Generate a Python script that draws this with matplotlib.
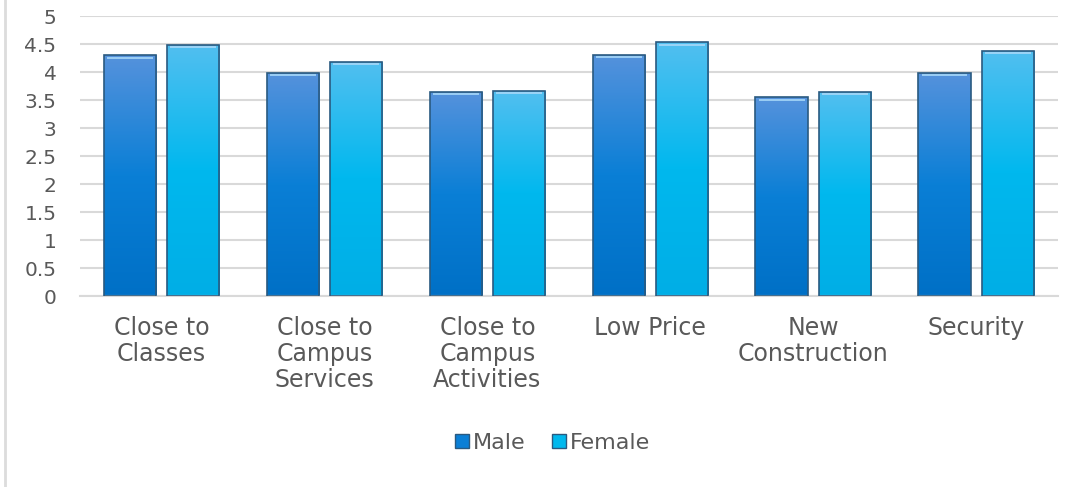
import matplotlib
matplotlib.use("Agg")
import matplotlib.pyplot as plt
import numpy as np
from matplotlib.colors import LinearSegmentedColormap
from matplotlib.lines import Line2D
from matplotlib.patches import Patch

categories = ["Close to\nClasses", "Close to\nCampus\nServices", "Close to\nCampus\nActivities",
              "Low Price", "New\nConstruction", "Security"]
male = [4.30, 3.98, 3.64, 4.31, 3.55, 3.98]
female = [4.49, 4.18, 3.66, 4.53, 3.64, 4.38]
yticks = [0, 0.5, 1, 1.5, 2, 2.5, 3, 3.5, 4, 4.5, 5]
ytick_labels = ["0", "0.5", "1", "1.5", "2", "2.5", "3", "3.5", "4", "4.5", "5"]

TEXT_COLOR = "#595959"
GRID_COLOR = "#d9d9d9"
MALE_CMAP = LinearSegmentedColormap.from_list("m", ["#0070c6", "#0a7fd6", "#5592dc"])
FEMALE_CMAP = LinearSegmentedColormap.from_list("f", ["#00aee6", "#00b8ee", "#52bff0"])
EDGE = "#2a5a80"

plt.rcParams["font.family"] = ["DejaVu Sans"]

fig = plt.figure(figsize=(10.86, 4.87), dpi=100)
# thin grey line along the left edge of the chart area
fig.add_artist(Line2D([0.0045, 0.0045], [0, 1], transform=fig.transFigure,
                      color="#dcdcdc", linewidth=2))
ax = fig.add_axes([0.0737, 0.392, 0.9003, 0.575])

x = np.arange(len(categories))
width = 0.32
offset = 0.195


def gradient_bars(xs, vals, cmap):
    bars = ax.bar(xs, vals, width, color="none", edgecolor=EDGE, linewidth=1.2, zorder=3)
    grad = np.linspace(0, 1, 256).reshape(-1, 1)
    for b in bars:
        bx, by = b.get_x(), b.get_y()
        bw, bh = b.get_width(), b.get_height()
        im = ax.imshow(grad, cmap=cmap, aspect="auto", origin="lower",
                       extent=(bx, bx + bw, by, by + bh), zorder=2)
        im.set_clip_path(b)
        # thin highlight at the top
        ax.plot([bx + bw * 0.06, bx + bw * 0.94], [by + bh - 0.04] * 2,
                color="#a8d8f8", linewidth=1.2, zorder=4, solid_capstyle="butt")
    return bars


gradient_bars(x - offset, male, MALE_CMAP)
gradient_bars(x + offset, female, FEMALE_CMAP)

ax.set_xlim(-0.5, len(categories) - 0.5)
ax.set_ylim(0, 5)
ax.set_yticks(yticks)
ax.set_yticklabels(ytick_labels)
ax.set_xticks(x)
ax.set_xticklabels(categories, linespacing=1.12)
ax.tick_params(axis="both", length=0, colors=TEXT_COLOR)
ax.tick_params(axis="y", pad=17, labelsize=14.5)
ax.tick_params(axis="x", pad=14, labelsize=17)
ax.grid(axis="y", color=GRID_COLOR, linewidth=1.5, zorder=0)
ax.set_axisbelow(True)
for s in ["left", "right", "top"]:
    ax.spines[s].set_visible(False)
ax.spines["bottom"].set_color(GRID_COLOR)
ax.spines["bottom"].set_linewidth(1.5)

handles = [Patch(facecolor="#0a7fd6", edgecolor=EDGE, label="Male"),
           Patch(facecolor="#00b8ee", edgecolor=EDGE, label="Female")]
fig.legend(handles=handles, loc="center", bbox_to_anchor=(0.509, 0.09), ncol=2,
           frameon=False, fontsize=16, handlelength=0.6, handleheight=0.6,
           handletextpad=0.2, columnspacing=1.2, labelcolor=TEXT_COLOR)

fig.savefig("out.png", dpi=100)
